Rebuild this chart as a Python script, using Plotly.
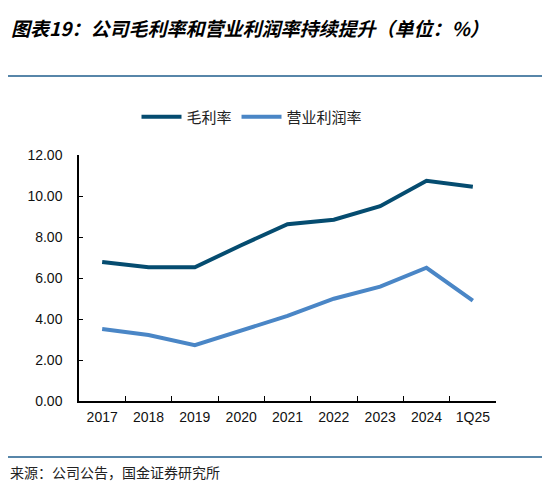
import plotly.graph_objects as go

categories = ["2017", "2018", "2019", "2020", "2021", "2022", "2023", "2024", "1Q25"]
gross_margin = [6.78, 6.52, 6.52, 7.6, 8.62, 8.84, 9.5, 10.74, 10.45]
op_margin = [3.51, 3.22, 2.72, 3.45, 4.15, 4.99, 5.58, 6.5, 4.9]
yticks = [0, 2, 4, 6, 8, 10, 12]

# page body has an 8px margin; the figure is sized/offset to land where the reference is
OFF = 8
W, H = 550 - OFF, 487 - OFF
L, R, T, B = 79 - OFF, 496 - OFF, 155 - OFF, 401 - OFF

def px(x):
    return (x - OFF - L) / (R - L)

def py(y):
    return (B - (y - OFF)) / (B - T)

fig = go.Figure()
fig.add_trace(go.Scatter(x=categories, y=gross_margin, mode="lines", name="毛利率",
                         line=dict(color="#054c70", width=4)))
fig.add_trace(go.Scatter(x=categories, y=op_margin, mode="lines", name="营业利润率",
                         line=dict(color="#4a86c6", width=4)))

tickfont = dict(family="Liberation Sans, Arial", size=14, color="#111111")
fig.update_layout(
    width=W, height=H,
    margin=dict(l=L, r=W - R, t=T, b=H - B, pad=0),
    paper_bgcolor="white", plot_bgcolor="white",
    showlegend=True,
    legend=dict(orientation="h", x=px(252), y=py(117), xanchor="center", yanchor="middle",
                font=dict(family="Noto Sans CJK SC", size=15, color="#222222"),
                itemwidth=40, bgcolor="rgba(0,0,0,0)"),
    xaxis=dict(type="category", showline=True, linecolor="#000000", linewidth=1.5,
               ticks="inside", tickson="boundaries", ticklen=5, tickcolor="#000000",
               tickwidth=1.2, showgrid=False, tickfont=tickfont, ticklabelstandoff=2,
               range=[-0.5, len(categories) - 0.5], zeroline=False),
    yaxis=dict(range=[0, 12], tickvals=yticks, ticktext=[f"{v:.2f}" for v in yticks],
               showline=True, linecolor="#000000", linewidth=1.5, ticks="inside",
               ticklen=4, tickcolor="#000000", tickwidth=1.2, showgrid=False,
               zeroline=False, tickfont=tickfont, ticklabelstandoff=12),
)

fig.add_shape(type="line", xref="paper", yref="paper", x0=px(5), x1=px(550), y0=py(76), y1=py(76),
              line=dict(color="#1f5e8c", width=1.5))
fig.add_shape(type="line", xref="paper", yref="paper", x0=px(5), x1=px(550), y0=py(457), y1=py(457),
              line=dict(color="#1f5e8c", width=1.5))

fig.add_annotation(text="<b>图表19：公司毛利率和营业利润率持续提升（单位：%）</b>",
                   xref="paper", yref="paper", x=px(9), y=py(27), xanchor="left", yanchor="middle",
                   showarrow=False,
                   font=dict(family="Noto Sans CJK SC", size=19, color="#000000", style="italic"))
fig.add_annotation(text="来源：公司公告，国金证券研究所",
                   xref="paper", yref="paper", x=px(8), y=py(472), xanchor="left", yanchor="middle",
                   showarrow=False,
                   font=dict(family="Noto Sans CJK SC", size=14, color="#222222"))

fig.write_html("out.html")
